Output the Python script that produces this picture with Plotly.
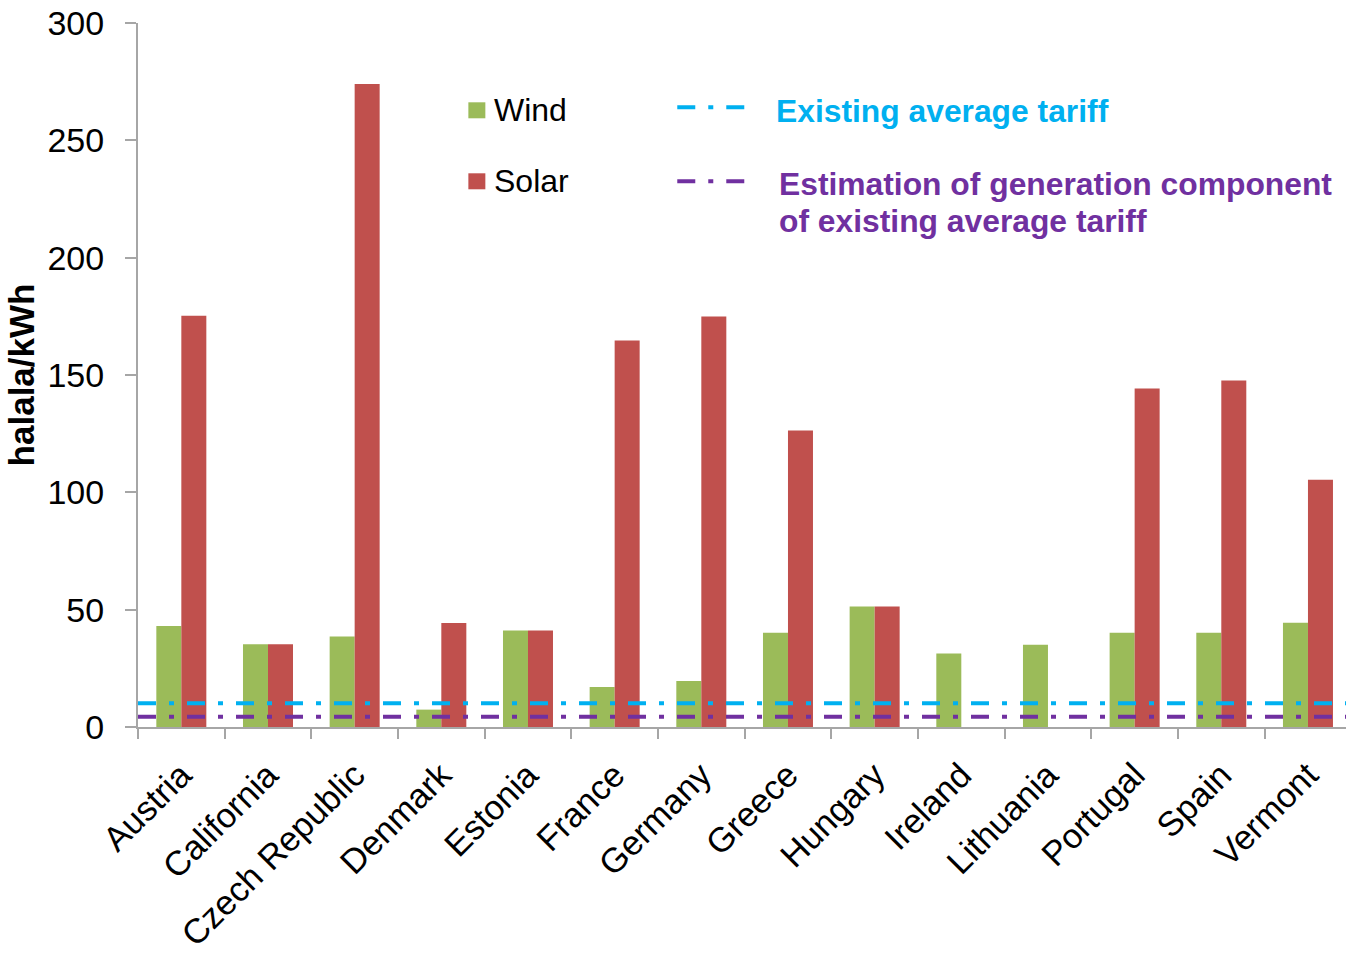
import plotly.graph_objects as go

categories = ["Austria", "California", "Czech Republic", "Denmark", "Estonia", "France",
              "Germany", "Greece", "Hungary", "Ireland", "Lithuania", "Portugal", "Spain", "Vermont"]
wind = [43.0, 35.3, 38.6, 7.4, 41.1, 17.0, 19.6, 40.2, 51.3, 31.3, 35.1, 40.2, 40.2, 44.4]
solar = [175.3, 35.3, 274.0, 44.3, 41.1, 164.7, 174.9, 126.4, 51.3, None, None, 144.3, 147.7, 105.4]
existing_tariff = 10.1
generation_component = 4.4
y_ticks = [0, 50, 100, 150, 200, 250, 300]

GREEN = "#9BBB59"
RED = "#C0504D"
CYAN = "#00B0F0"
PURPLE = "#7030A0"
AXIS = "#A6A6A6"
FONT = "Liberation Sans, Arial, sans-serif"

W, H = 1346, 957
L, T, B, R = 137.5, 22.7, 957 - 726.7, 0
PW = W - L - R
PH = H - T - B

def px(x):
    return (x - L) / PW

def py(y):
    return (H - B - y) / PH

fig = go.Figure()
fig.add_trace(go.Bar(x=categories, y=wind, name="Wind", marker=dict(color=GREEN, line=dict(width=0))))
fig.add_trace(go.Bar(x=categories, y=solar, name="Solar", marker=dict(color=RED, line=dict(width=0))))

dash = "18px,13px,5px,13px"
shapes = [
    dict(type="line", xref="paper", x0=0, x1=1, yref="y", y0=existing_tariff, y1=existing_tariff,
         line=dict(color=CYAN, width=4, dash=dash), layer="above"),
    dict(type="line", xref="paper", x0=0, x1=1, yref="y", y0=generation_component, y1=generation_component,
         line=dict(color=PURPLE, width=4, dash=dash), layer="above"),
    # legend swatches
    dict(type="rect", xref="paper", yref="paper", x0=px(468), x1=px(485), y0=py(118), y1=py(102),
         fillcolor=GREEN, line=dict(width=0)),
    dict(type="rect", xref="paper", yref="paper", x0=px(468), x1=px(485), y0=py(189), y1=py(173),
         fillcolor=RED, line=dict(width=0)),
    dict(type="line", xref="paper", yref="paper", x0=px(677), x1=px(745), y0=py(107), y1=py(107),
         line=dict(color=CYAN, width=4, dash=dash)),
    dict(type="line", xref="paper", yref="paper", x0=px(677), x1=px(745), y0=py(181), y1=py(181),
         line=dict(color=PURPLE, width=4, dash=dash)),
]

annotations = [
    dict(text="Wind", x=px(492), y=py(110), xref="paper", yref="paper", xanchor="left", yanchor="middle",
         showarrow=False, font=dict(size=32, color="black", family=FONT)),
    dict(text="Solar", x=px(492), y=py(181), xref="paper", yref="paper", xanchor="left", yanchor="middle",
         showarrow=False, font=dict(size=32, color="black", family=FONT)),
    dict(text="<b>Existing average tariff</b>", x=px(774), y=py(111), xref="paper", yref="paper",
         xanchor="left", yanchor="middle", showarrow=False, font=dict(size=31.8, color=CYAN, family=FONT)),
    dict(text="<b>Estimation of generation component</b>", x=px(777), y=py(184), xref="paper", yref="paper",
         xanchor="left", yanchor="middle", showarrow=False, font=dict(size=31.8, color=PURPLE, family=FONT)),
    dict(text="<b>of existing average tariff</b>", x=px(777), y=py(221), xref="paper", yref="paper",
         xanchor="left", yanchor="middle", showarrow=False, font=dict(size=31.8, color=PURPLE, family=FONT)),
]

cat_w = 86.7
visible = PW / cat_w

fig.update_layout(
    width=W, height=H,
    margin=dict(l=L, r=R, t=T, b=B, pad=0, autoexpand=False),
    paper_bgcolor="white", plot_bgcolor="white",
    barmode="group", bargap=0.423, bargroupgap=0,
    showlegend=False,
    shapes=shapes, annotations=annotations,
    font=dict(family=FONT, color="black"),
    xaxis=dict(
        range=[-0.5, -0.5 + visible], automargin=False,
        showline=True, linecolor=AXIS, linewidth=2,
        ticks="outside", ticklen=10, tickcolor=AXIS, tickwidth=2,
        tickson="boundaries",
        ticklabelstandoff=12,
        tickangle=-45, tickfont=dict(size=34.5, family=FONT, color="black"),
        showgrid=False, zeroline=False,
    ),
    yaxis=dict(
        range=[0, 300], tickvals=y_ticks, automargin=False,
        showline=True, linecolor=AXIS, linewidth=2,
        ticks="outside", ticklen=11, tickcolor=AXIS, tickwidth=2,
        ticklabelstandoff=14,
        tickfont=dict(size=34, family=FONT, color="black"),
        showgrid=False, zeroline=False,
        title=dict(text="<b>halala/kWh</b>", font=dict(size=35, family=FONT, color="black"), standoff=2),
    ),
)

fig.write_html("out.html")
